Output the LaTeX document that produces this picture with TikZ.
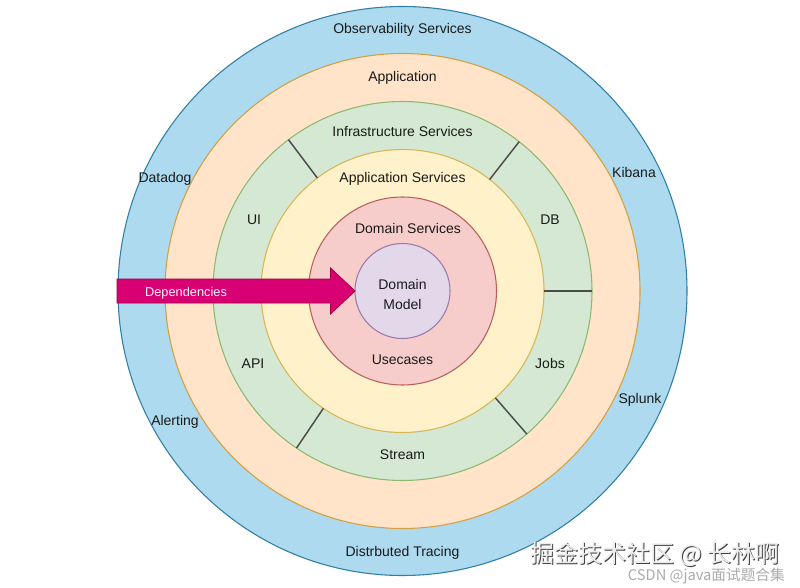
\documentclass[tikz,border=0pt]{standalone}
\usepackage{fontspec}
\setmainfont{Liberation Sans}
\newfontfamily\cjkfont{Noto Sans CJK SC}
\definecolor{obsfill}{HTML}{ADDAEE}
\definecolor{obsline}{HTML}{2F7FA6}
\definecolor{appfill}{HTML}{FFE4CA}
\definecolor{appline}{HTML}{D2A040}
\definecolor{infill}{HTML}{D5E8D4}
\definecolor{inline}{HTML}{8DB870}
\definecolor{asfill}{HTML}{FFF1CA}
\definecolor{asline}{HTML}{D6B656}
\definecolor{dsfill}{HTML}{F6CDCB}
\definecolor{dsline}{HTML}{B8605C}
\definecolor{dmfill}{HTML}{E3D7EA}
\definecolor{dmline}{HTML}{9C7BAB}
\definecolor{depfill}{HTML}{D80073}
\definecolor{depline}{HTML}{A50040}
\definecolor{txt}{HTML}{1A1A1A}
\tikzset{
  ring/.style={circle, inner sep=0pt, outer sep=0pt, line width=0.8pt},
  lbl/.style={font=\fontsize{10.5}{12.6}\selectfont, text=txt, inner sep=0pt},
  divider/.style={draw=black!70, line width=1.1pt},
}
\begin{document}
\begin{tikzpicture}[x=0.75pt, y=-0.75pt]
\useasboundingbox (0,0) rectangle (800,588);
\fill[white] (0,0) rectangle (800,588);
\coordinate (c) at (402.5,291);
% rings
\node[ring, draw=obsline, fill=obsfill, minimum size=426.75pt] (obs) at (c) {};
\node[ring, draw=appline, fill=appfill, minimum size=356.25pt] (app) at (c) {};
\node[ring, draw=inline, fill=infill, minimum size=284.25pt] (infra) at (c) {};
\node[ring, draw=asline, fill=asfill, minimum size=212.25pt] (appsvc) at (c) {};
\node[ring, draw=dsline, fill=dsfill, minimum size=141pt] (domsvc) at (c) {};
\node[ring, draw=dmline, fill=dmfill, minimum size=71.25pt] (dommod) at (c) {};
% dividers in infrastructure ring
\draw[divider] (appsvc.127.5) -- (infra.127.5);
\draw[divider] (appsvc.52.5) -- (infra.52.5);
\draw[divider] (appsvc.0) -- (infra.0);
\draw[divider] (appsvc.180) -- (infra.180);
\draw[divider] (appsvc.236) -- (infra.236);
\draw[divider] (appsvc.311.5) -- (infra.311.5);
% labels
\node[lbl] (lobs) at (402.5,29.5) {Observability Services};
\node[lbl] (lapp) at (402.5,77.5) {Application};
\node[lbl] (linfra) at (402.5,131.5) {Infrastructure Services};
\node[lbl] (lappsvc) at (402.5,178.5) {Application Services};
\node[lbl] (ldomsvc) at (408,228.5) {Domain Services};
\node[lbl, align=center, font=\fontsize{10.5}{15}\selectfont] (ldommod) at (402.5,294) {Domain\\Model};
\node[lbl] (luse) at (402.5,359.5) {Usecases};
\node[lbl] (lstream) at (402.5,454.5) {Stream};
\node[lbl] (ltrace) at (402.5,552.5) {Distrbuted Tracing};
\node[lbl] (ldatadog) at (165,178.5) {Datadog};
\node[lbl] (lkibana) at (634,172.5) {Kibana};
\node[lbl] (lui) at (254,219.5) {UI};
\node[lbl] (ldb) at (550,219.5) {DB};
\node[lbl] (lapi) at (253,363.5) {API};
\node[lbl] (ljobs) at (550,363.5) {Jobs};
\node[lbl] (lalert) at (175,421.5) {Alerting};
\node[lbl] (lsplunk) at (640,399.5) {Splunk};
% dependencies arrow
\draw[draw=depline, fill=depfill, line width=0.6pt]
  (117,279) -- (330.5,279) -- (330.5,268) -- (355,291) -- (330.5,314) -- (330.5,303) -- (117,303) -- cycle;
\node[lbl, font=\fontsize{9.6}{11}\selectfont, text=white!88!pink] (ldep) at (186,293) {Dependencies};
% watermark
\node[font=\cjkfont\fontsize{18}{20}\selectfont, text=black!75, inner sep=0pt, anchor=east] (wm1s) at (781,555) {掘金技术社区 @ 长林啊};
\node[font=\cjkfont\fontsize{18}{20}\selectfont, text=white!93!black, inner sep=0pt, anchor=east] (wm1) at (780,554) {掘金技术社区 @ 长林啊};
\node[font=\cjkfont\fontsize{11}{13}\selectfont, text=black!33, inner sep=0pt, anchor=east] (wm2) at (785,576) {CSDN @java面试题合集};
\end{tikzpicture}
\end{document}
